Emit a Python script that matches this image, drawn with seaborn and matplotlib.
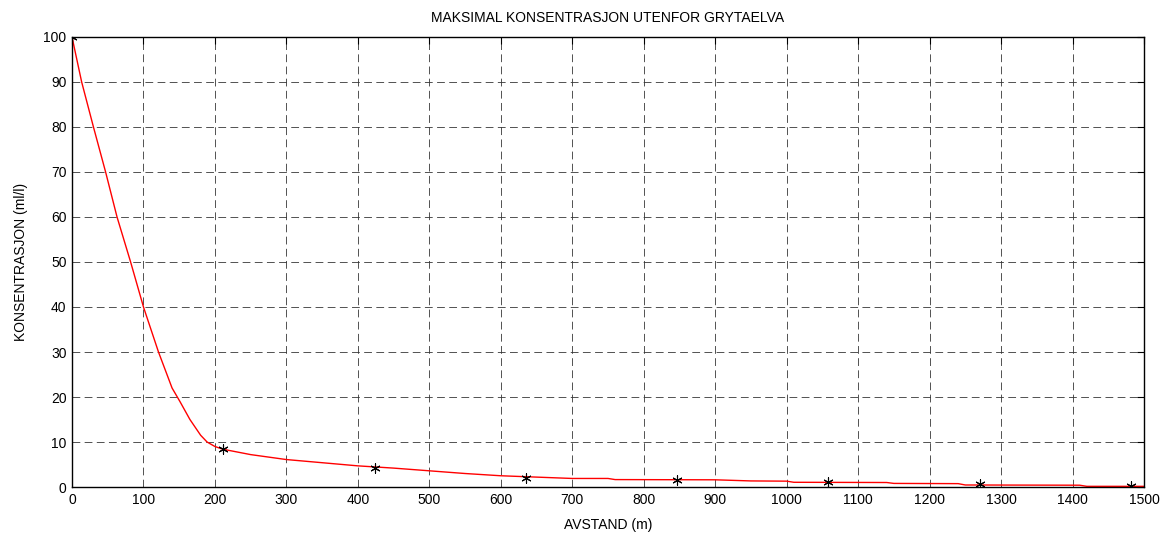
import matplotlib
matplotlib.use("Agg")
import matplotlib.pyplot as plt
import seaborn as sns
import pandas as pd

# Concentration profile (red curve)
distance = [0, 13.5, 30, 47, 63, 82, 100, 121, 140, 151, 165, 180, 189, 200, 211,
            250, 300, 350, 400, 450, 500, 550, 600, 650, 700, 750, 760, 900, 950,
            1000, 1010, 1140, 1150, 1240, 1250, 1410, 1420, 1500]
concentration = [100, 90, 80, 70, 60, 50, 40, 30, 22, 19, 15, 11.5, 10, 9, 8.4,
                 7.2, 6.1, 5.4, 4.7, 4.2, 3.6, 3.0, 2.5, 2.2, 1.9, 1.9, 1.65, 1.6, 1.35,
                 1.3, 1.05, 1.0, 0.8, 0.75, 0.45, 0.4, 0.15, 0.15]

# Measured maxima (asterisks)
sample_distance = [0, 211.7, 423.3, 635, 846.7, 1058.3, 1270, 1481.7]
sample_conc = [100, 8.4, 4.3, 2.1, 1.5, 1.1, 0.6, 0.3]

curve = pd.DataFrame({"x": distance, "y": concentration})
samples = pd.DataFrame({"x": sample_distance, "y": sample_conc})

sns.set_style("white")
plt.rcParams["font.family"] = ["Liberation Sans", "DejaVu Sans"]
plt.rcParams["text.color"] = "black"
plt.rcParams["axes.labelcolor"] = "black"

fig = plt.figure(figsize=(11.69, 5.36), dpi=100)
ax = fig.add_axes([0.0616, 0.0914, 0.9170, 0.8396])

sns.lineplot(data=curve, x="x", y="y", color="red", linewidth=1.0, ax=ax, sort=False)
sns.scatterplot(data=samples, x="x", y="y", marker=(6, 2, 0), color="black",
                s=45, linewidth=0.8, ax=ax, zorder=5)

ax.set_xlim(0, 1500)
ax.set_ylim(0, 100)
ax.set_xticks(range(0, 1501, 100))
ax.set_yticks(range(0, 101, 10))
ax.grid(True, color="#333333", linestyle=(0, (8, 4.5)), linewidth=0.7, alpha=0.85)
ax.set_axisbelow(True)
for s in ax.spines.values():
    s.set_color("black")
    s.set_linewidth(1.0)
ax.tick_params(direction="in", length=5, width=0.8, top=True, right=True,
               labelsize=10, colors="black", pad=4)

ax.set_title("MAKSIMAL KONSENTRASJON UTENFOR GRYTAELVA", fontsize=10, pad=11, color="black")
ax.set_xlabel("AVSTAND (m)", fontsize=10, labelpad=8)
ax.set_ylabel("KONSENTRASJON (ml/l)", fontsize=10, labelpad=11)

fig.savefig("out.png", dpi=100, facecolor="white")
